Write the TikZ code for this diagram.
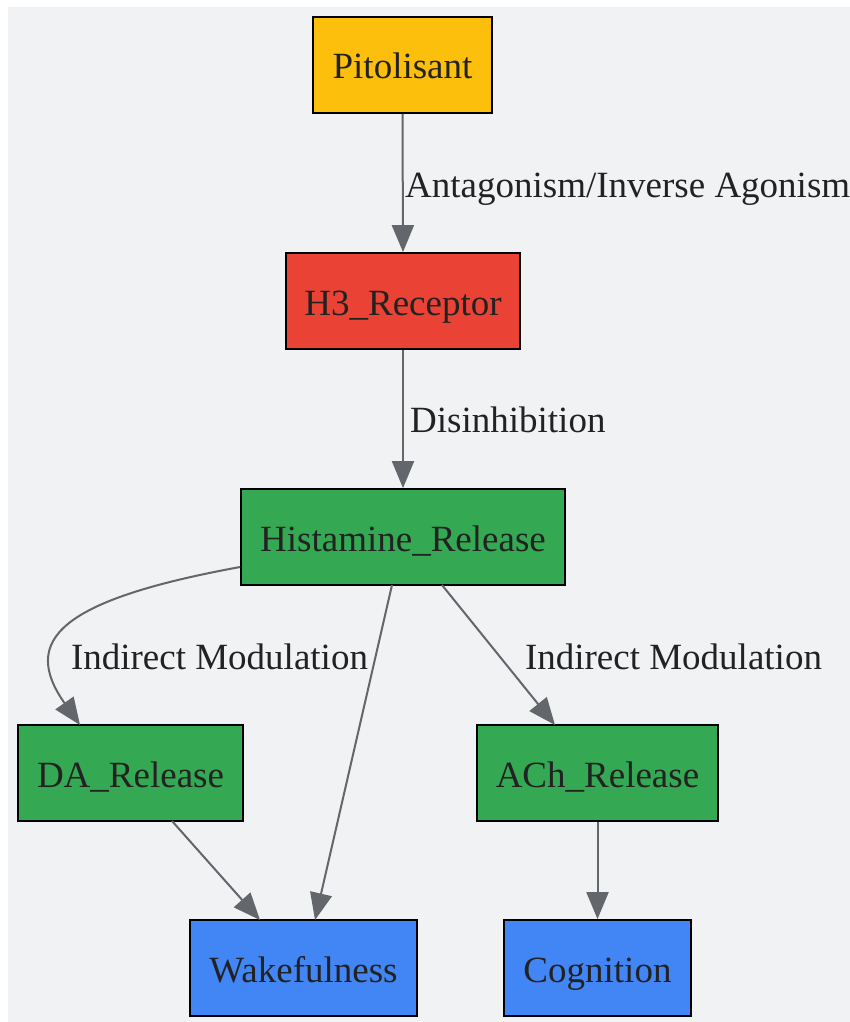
\documentclass[tikz,border=0pt]{standalone}
\usepackage{fontspec}
\setmainfont{Liberation Serif}
\usetikzlibrary{arrows.meta}
\definecolor{bg}{HTML}{F1F2F4}
\definecolor{amber}{HTML}{FBBF0C}
\definecolor{redc}{HTML}{EA4335}
\definecolor{greenc}{HTML}{34A853}
\definecolor{bluec}{HTML}{4285F4}
\definecolor{edgec}{HTML}{63666A}
\definecolor{txt}{HTML}{222222}
\tikzset{
  box/.style={draw=black, line width=1.8pt, minimum height=96pt, inner sep=0pt, text height=28pt, text depth=0pt, text=txt, font=\fontsize{37}{42}\selectfont},
  conn/.style={draw=edgec, line width=2pt, -{Triangle[length=27pt,width=22pt]}},
  elabel/.style={text=txt, font=\fontsize{37}{42}\selectfont, inner sep=0pt}
}
\begin{document}
\begin{tikzpicture}[x=1pt,y=-1pt]
\useasboundingbox (0,0) rectangle (850,1022);
\fill[bg] (8,7) rectangle (850,1022);
\node[box, fill=amber, minimum width=179pt] (pit) at (402.5,65) {Pitolisant};
\node[box, fill=redc, minimum width=234pt] (h3) at (403,301) {H3\_Receptor};
\node[box, fill=greenc, minimum width=324pt] (his) at (403,537) {Histamine\_Release};
\node[box, fill=greenc, minimum width=225pt] (da) at (130.5,773) {DA\_Release};
\node[box, fill=greenc, minimum width=241pt] (ach) at (597.5,773) {ACh\_Release};
\node[box, fill=bluec, minimum width=227pt] (wake) at (303.5,968) {Wakefulness};
\node[box, fill=bluec, minimum width=187pt] (cog) at (597.5,968) {Cognition};

\coordinate (hisL) at (his.west |- 0,567);
\coordinate (daT) at (80,725);
\coordinate (hisB1) at (392,585);
\coordinate (wakeT1) at (315,920);
\coordinate (hisB2) at (442,585);
\coordinate (achT) at (555,725);
\coordinate (daB) at (172,821);
\coordinate (wakeT2) at (260,920);

\draw[conn] (pit.south) -- (h3.north);
\draw[conn] (h3.south) -- (his.north);
\draw[conn] (hisL) .. controls (60,600) and (20,640) .. (daT);
\draw[conn] (hisB1) -- (wakeT1);
\draw[conn] (hisB2) -- (achT);
\draw[conn] (daB) -- (wakeT2);
\draw[conn] (ach.south) -- (cog.north);

\node[elabel, anchor=base west] (l1) at (405,197) {Antagonism/Inverse Agonism};
\node[elabel, anchor=base west] (l2) at (410,432) {Disinhibition};
\node[elabel, anchor=base] (l3) at (219.5,669) {Indirect Modulation};
\node[elabel, anchor=base] (l4) at (673.5,669) {Indirect Modulation};
\end{tikzpicture}
\end{document}
